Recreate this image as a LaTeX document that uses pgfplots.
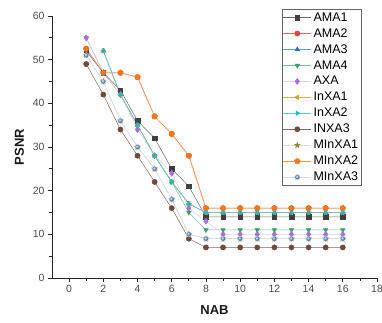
\documentclass[border=0pt]{standalone}
\usepackage{pgfplots}
\pgfplotsset{compat=1.18}
\usepackage{fontspec}
\setmainfont{Liberation Sans}
\definecolor{cA}{HTML}{404040}
\definecolor{cB}{HTML}{E8413C}
\definecolor{cC}{HTML}{2A6EBB}
\definecolor{cD}{HTML}{3F9E70}
\definecolor{cE}{HTML}{A86FD9}
\definecolor{cF}{HTML}{C8A030}
\definecolor{cG}{HTML}{22B8C8}
\definecolor{cH}{HTML}{6E4B3E}
\definecolor{cI}{HTML}{8C8C30}
\definecolor{cJ}{HTML}{F0781E}
\definecolor{cK}{HTML}{6D9FD3}
\pgfdeclareplotmark{fstar}{%
  \pgfpathmoveto{\pgfpointpolar{90}{1.3\pgfplotmarksize}}%
  \pgfpathlineto{\pgfpointpolar{126}{0.55\pgfplotmarksize}}%
  \pgfpathlineto{\pgfpointpolar{162}{1.3\pgfplotmarksize}}%
  \pgfpathlineto{\pgfpointpolar{198}{0.55\pgfplotmarksize}}%
  \pgfpathlineto{\pgfpointpolar{234}{1.3\pgfplotmarksize}}%
  \pgfpathlineto{\pgfpointpolar{270}{0.55\pgfplotmarksize}}%
  \pgfpathlineto{\pgfpointpolar{306}{1.3\pgfplotmarksize}}%
  \pgfpathlineto{\pgfpointpolar{342}{0.55\pgfplotmarksize}}%
  \pgfpathlineto{\pgfpointpolar{18}{1.3\pgfplotmarksize}}%
  \pgfpathlineto{\pgfpointpolar{54}{0.55\pgfplotmarksize}}%
  \pgfpathclose\pgfusepathqfillstroke}
\begin{document}
\begin{tikzpicture}
\useasboundingbox (-52pt,-44pt) rectangle (330pt,278pt);
\begin{axis}[
  at={(0pt,0pt)}, anchor=south west,
  scale only axis, width=325pt, height=262pt,
  xmin=-1, xmax=18, ymin=0, ymax=60,
  axis x line*=bottom, axis y line*=left,
  axis line style={line width=0.9pt, color=black!85},
  xtick={0,2,...,18}, ytick={0,10,...,60},
  minor xtick={1,3,...,17}, minor ytick={5,15,...,55},
  tick align=outside, tick pos=left,
  major tick length=4pt, minor tick length=2.5pt,
  tick style={line width=0.8pt, color=black!85},
  ticklabel style={font=\fontsize{10.5}{12}\selectfont, color=black!70},
  /pgf/number format/assume math mode=true,
  xlabel={\textbf{NAB}}, ylabel={\textbf{PSNR}},
  label style={font=\fontsize{13}{15}\selectfont, color=black!90},
  xlabel style={yshift=-6pt},
  ylabel style={yshift=2pt},
  clip=false,
  every axis plot/.append style={line width=0.5pt, mark size=2.6pt},
  legend style={at={(axis description cs:0.707,1.026)}, anchor=north west,
    font=\fontsize{12.5}{14}\selectfont, draw=black!60, line width=0.6pt,
    inner sep=1pt, row sep=1.8pt, cells={anchor=west}},
  legend cell align=left,
  legend image code/.code={\draw[mark repeat=2,mark phase=2] plot coordinates {(0pt,0pt)(14pt,0pt)(28pt,0pt)};},
  legend image post style={line width=0.5pt},
]
\addplot[color=cA!80, mark=square*, mark options={fill=cA, draw=cA, mark size=2.3pt}] coordinates {(1,52)(2,47)(3,43)(4,36)(5,32)(6,25)(7,21)(8,14)(9,14)(10,14)(11,14)(12,14)(13,14)(14,14)(15,14)(16,14)};
\addlegendentry{AMA1}
\addplot[color=cB!80, mark=*, mark options={fill=cB, draw=cB}] coordinates {(1,52.5)(2,47)(3,47)(4,46)(5,37)(6,33)(7,28)(8,16)(9,16)(10,16)(11,16)(12,16)(13,16)(14,16)(15,16)(16,16)};
\addlegendentry{AMA2}
\addplot[color=cC!70, mark=triangle*, mark options={fill=cC, draw=cC}] coordinates {(2,52)(3,42)(4,35)(5,28)(6,22)(7,17)(8,15)(9,15)(10,15)(11,15)(12,15)(13,15)(14,15)(15,15)(16,15)};
\addlegendentry{AMA3}
\addplot[color=cD!70, mark=triangle*, mark options={rotate=180, fill=cD, draw=cD}] coordinates {(1,55)(2,47)(3,42)(4,35)(5,28)(6,22)(7,15)(8,11)(9,11)(10,11)(11,11)(12,11)(13,11)(14,11)(15,11)(16,11)};
\addlegendentry{AMA4}
\addplot[color=cE!35, mark=diamond*, mark options={fill=cE, draw=cE, mark size=3pt}] coordinates {(1,55)(2,47)(3,42)(4,34)(5,28)(6,24)(7,16)(8,13)(9,10)(10,10)(11,10)(12,10)(13,10)(14,10)(15,10)(16,10)};
\addlegendentry{AXA}
\addplot[color=cF!80, mark=triangle*, mark options={rotate=90, fill=cF, draw=cF}] coordinates {(2,52)(3,42)(4,35)(5,28)(6,22)(7,17)(8,15)(9,15)(10,15)(11,15)(12,15)(13,15)(14,15)(15,15)(16,15)};
\addlegendentry{InXA1}
\addplot[color=cG!75, mark=triangle*, mark options={rotate=-90, fill=cG, draw=cG}] coordinates {(2,52)(3,42)(4,35)(5,28)(6,22)(7,17)(8,15)(9,15)(10,15)(11,15)(12,15)(13,15)(14,15)(15,15)(16,15)};
\addlegendentry{InXA2}
\addplot[color=cH!85, mark=*, mark options={fill=cH, draw=cH}] coordinates {(1,49)(2,42)(3,34)(4,28)(5,22)(6,16)(7,9)(8,7)(9,7)(10,7)(11,7)(12,7)(13,7)(14,7)(15,7)(16,7)};
\addlegendentry{INXA3}
\addplot[color=cI!30, mark=fstar, mark options={fill=cI, draw=cI, mark size=2.2pt}] coordinates {(1,51)(2,45)(3,36)(4,30)(5,25)(6,18)(7,10)(8,9)(9,9)(10,9)(11,9)(12,9)(13,9)(14,9)(15,9)(16,9)};
\addlegendentry{MInXA1}
\addplot[color=cJ!75, mark=pentagon*, mark options={fill=cJ, draw=cJ, mark size=2.9pt}] coordinates {(1,52.5)(2,47)(3,47)(4,46)(5,37)(6,33)(7,28)(8,16)(9,16)(10,16)(11,16)(12,16)(13,16)(14,16)(15,16)(16,16)};
\addlegendentry{MInXA2}
\addplot[color=cK!35, mark=ball, mark options={ball color=cK, draw=none}] coordinates {(1,51)(2,45)(3,36)(4,30)(5,25)(6,18)(7,10)(8,9)(9,9)(10,9)(11,9)(12,9)(13,9)(14,9)(15,9)(16,9)};
\addlegendentry{MInXA3}
\end{axis}
\end{tikzpicture}
\end{document}
